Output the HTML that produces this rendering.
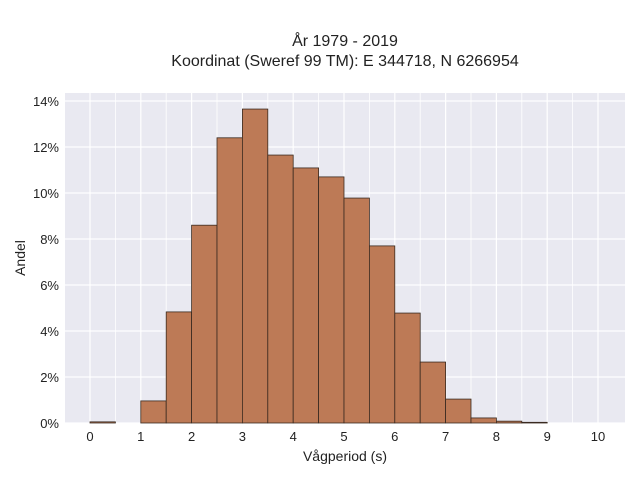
<!DOCTYPE html>
<html><head><meta charset="utf-8"><style>
body{margin:0;background:#fff;width:640px;height:480px;overflow:hidden;font-family:"Liberation Sans",sans-serif}
</style></head><body>
<svg id="c" width="640" height="480" xmlns="http://www.w3.org/2000/svg">
<text x="345" y="46" text-anchor="middle" font-size="16" fill="#222">År 1979 - 2019</text>
<text x="345" y="66" text-anchor="middle" font-size="16" fill="#222">Koordinat (Sweref 99 TM): E 344718, N 6266954</text>
<rect x="65" y="93" width="560" height="330" fill="#e9e9f1"/>
<g id="grid"></g><g id="bars"></g><g id="axes"></g>
<text x="345" y="461" text-anchor="middle" font-size="14" fill="#222">Vågperiod (s)</text>
<text transform="translate(25,258) rotate(-90)" text-anchor="middle" font-size="14" fill="#222">Andel</text>
</svg>
<script>
const binStarts=[0,0.5,1,1.5,2,2.5,3,3.5,4,4.5,5,5.5,6,6.5,7,7.5,8,8.5,9,9.5];
const shares=[0.05,0,0.96,4.83,8.6,12.4,13.65,11.65,11.09,10.7,9.78,7.7,4.78,2.65,1.04,0.22,0.08,0.03,0,0];
const xTicks=[0,1,2,3,4,5,6,7,8,9,10];
const yTicks=[0,2,4,6,8,10,12,14];
const binWidth=0.5;
const NS="http://www.w3.org/2000/svg";
const X=v=>90+v*50.8, Y=v=>423-v*23;
function mk(t,a,p){const e=document.createElementNS(NS,t);for(const k in a)e.setAttribute(k,a[k]);p.appendChild(e);return e;}
const g=document.getElementById('grid'),b=document.getElementById('bars'),ax=document.getElementById('axes');
for(let v=0;v<=10;v+=0.5){const l=mk('line',{x1:X(v),x2:X(v),y1:93,y2:423,stroke:'#fff','stroke-width':v%1?0.8:1.2},g);

}
yTicks.forEach(v=>{const l=mk('line',{x1:65,x2:625,y1:Y(v),y2:Y(v),stroke:'#fff','stroke-width':1.2},g);


const t=mk('text',{x:59,y:Y(v)+5,'text-anchor':'end','font-size':13,fill:'#222'},ax);t.textContent=v+'%';

});
xTicks.forEach(v=>{const t=mk('text',{x:X(v),y:441,'text-anchor':'middle','font-size':13,fill:'#222'},ax);t.textContent=v;

});
binStarts.forEach((s,i)=>{if(shares[i]<=0)return;const r=mk('rect',{x:X(s),y:Y(shares[i]),width:X(s+binWidth)-X(s),height:Y(0)-Y(shares[i]),fill:'#bd7a56',stroke:'#3a2a20','stroke-width':0.8},b);

});
</script>
</body></html>
